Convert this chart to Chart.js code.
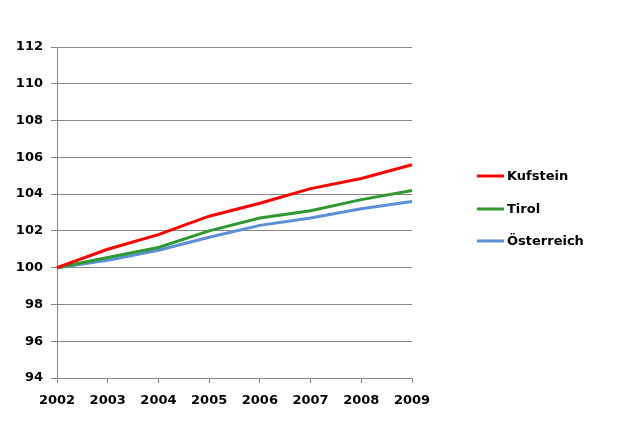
<!DOCTYPE html>
<html>
<head>
<meta charset="utf-8">
<script src="https://cdn.jsdelivr.net/npm/chart.js@4/dist/chart.umd.min.js"></script>
<style>
  html, body { margin: 0; padding: 0; background: #fff; }
  #wrap { width: 631px; height: 432px; position: relative; }
</style>
</head>
<body>
<div id="wrap"><canvas id="chart"></canvas></div>
<script>
const years = ['2002', '2003', '2004', '2005', '2006', '2007', '2008', '2009'];
const kufstein = [100, 101.0, 101.8, 102.8, 103.5, 104.3, 104.85, 105.6];
const tirol = [100, 100.55, 101.1, 102.0, 102.7, 103.1, 103.7, 104.2];
const oesterreich = [100, 100.4, 100.95, 101.65, 102.3, 102.7, 103.2, 103.6];
const yTicks = [94, 96, 98, 100, 102, 104, 106, 108, 110, 112];

const font = { family: '"DejaVu Sans", Verdana, sans-serif', size: 13, weight: 'bold' };

// legend drawn by hand on the right, Excel style
const sideLegend = {
  id: 'sideLegend',
  afterDraw(chart) {
    const ctx = chart.ctx;
    const rows = [176, 209, 241];
    ctx.save();
    ctx.font = `bold 13px ${font.family}`;
    ctx.textBaseline = 'middle';
    ctx.fillStyle = '#000';
    chart.data.datasets.forEach((ds, i) => {
      ctx.strokeStyle = ds.borderColor;
      ctx.lineWidth = 3;
      ctx.beginPath();
      ctx.moveTo(477, rows[i]);
      ctx.lineTo(504, rows[i]);
      ctx.stroke();
      ctx.fillText(ds.label, 507, rows[i] + 1);
    });
    ctx.restore();
  },
};

new Chart(document.getElementById('chart'), {
  type: 'line',
  data: {
    labels: years,
    datasets: [
      { label: 'Kufstein', data: kufstein, borderColor: '#ff0000' },
      { label: 'Tirol', data: tirol, borderColor: '#2e992e' },
      { label: 'Österreich', data: oesterreich, borderColor: '#5b8fd8' },
    ].map((ds) => ({ ...ds, borderWidth: 3, pointRadius: 0, tension: 0, fill: false })),
  },
  options: {
    responsive: true,
    maintainAspectRatio: false,
    animation: false,
    layout: { padding: { left: 0, right: 219, top: 47, bottom: 22 } },
    plugins: {
      legend: { display: false },
      tooltip: { enabled: false },
    },
    scales: {
      x: {
        offset: false,
        afterFit: (scale) => { scale.height = 32; },
        grid: { drawOnChartArea: false, drawTicks: true, tickLength: 5, color: '#868686' },
        border: { color: '#868686' },
        ticks: { color: '#000', font, padding: 10, maxRotation: 0 },
      },
      y: {
        min: 94,
        max: 112,
        afterFit: (scale) => { scale.width = 57; },
        afterBuildTicks: (scale) => { scale.ticks = yTicks.map((v) => ({ value: v })); },
        grid: { color: '#868686', tickLength: 6 },
        border: { color: '#868686' },
        ticks: { color: '#000', font, padding: 8 },
      },
    },
  },
  plugins: [sideLegend],
});
</script>
</body>
</html>
